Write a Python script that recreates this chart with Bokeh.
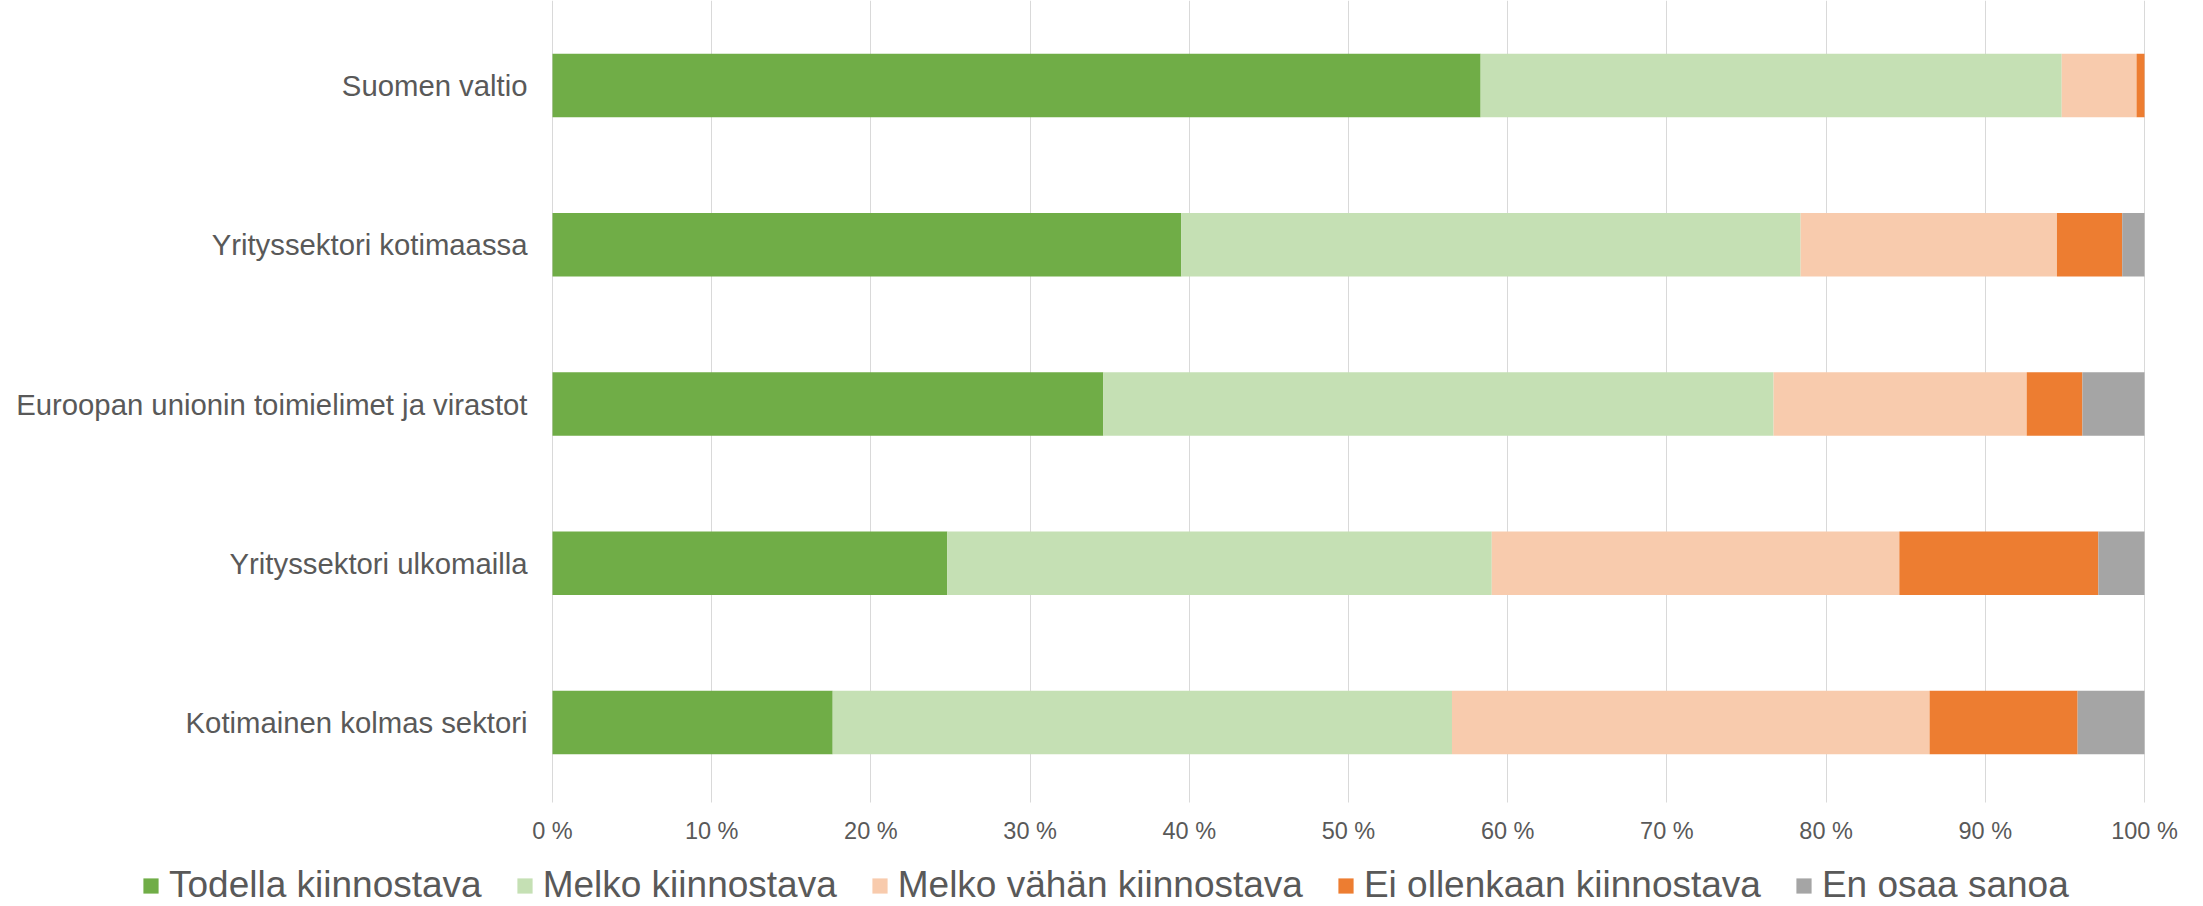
from bokeh.plotting import figure
from bokeh.models import ColumnDataSource, Range1d, FixedTicker, Legend, LegendItem
from bokeh.embed import file_html
from bokeh.resources import INLINE

# ---- data ----
categories = [
    "Suomen valtio",
    "Yrityssektori kotimaassa",
    "Euroopan unionin toimielimet ja virastot",
    "Yrityssektori ulkomailla",
    "Kotimainen kolmas sektori",
]
series_names = [
    "Todella kiinnostava",
    "Melko kiinnostava",
    "Melko vähän kiinnostava",
    "Ei ollenkaan kiinnostava",
    "En osaa sanoa",
]
todella = [58.3, 39.5, 34.6, 24.8, 17.6]
melko = [36.5, 38.9, 42.1, 34.2, 38.9]
melko_vahan = [4.7, 16.1, 15.9, 25.6, 30.0]
ei_ollenkaan = [0.5, 4.1, 3.5, 12.5, 9.3]
en_osaa = [0.0, 1.4, 3.9, 2.9, 4.2]
tick_values = [0, 10, 20, 30, 40, 50, 60, 70, 80, 90, 100]
tick_labels = ["0 %", "10 %", "20 %", "30 %", "40 %", "50 %", "60 %", "70 %", "80 %", "90 %", "100 %"]

colors = ["#70AD47", "#C5E0B4", "#F8CBAD", "#ED7D31", "#A5A5A5"]
keys = ["s0", "s1", "s2", "s3", "s4"]

n = len(categories)
ypos = [n - 1 - i for i in range(n)]  # first category on top

source = ColumnDataSource(dict(
    ypos=ypos,
    s0=todella, s1=melko, s2=melko_vahan, s3=ei_ollenkaan, s4=en_osaa,
))

FONT = "Liberation Sans"
TXT = "#595959"

# ---- layout (pixels of the 2203 x 906 canvas) ----
W, H = 2203, 906
PX0, PX100 = 552, 2144          # 0 % and 100 %
PY_TOP, PY_BOT = 5.4, 801.6     # top and bottom of the category bands
ppu_x = (PX100 - PX0) / 100.0
ppu_y = (PY_BOT - PY_TOP) / n
x_start = -PX0 / ppu_x
x_end = 100 + (W - PX100) / ppu_x
y_top = (n - 0.5) + PY_TOP / ppu_y
y_bot = -0.5 - (H - PY_BOT) / ppu_y

p = figure(
    width=W, height=H,
    x_range=Range1d(x_start, x_end),
    y_range=Range1d(y_bot, y_top),
    output_backend="svg", toolbar_location=None,
    min_border_left=0, min_border_right=0,
    min_border_top=0, min_border_bottom=0,
)
p.outline_line_color = None
p.background_fill_color = "white"
p.border_fill_color = "white"

renderers = p.hbar_stack(keys, y="ypos", height=0.4, color=colors, line_color=None, source=source)

# x axis pinned to the bottom of the category area
p.xaxis.fixed_location = -0.5
p.xaxis.ticker = FixedTicker(ticks=tick_values)
p.xaxis.major_label_overrides = {v: l for v, l in zip(tick_values, tick_labels)}
p.xaxis.axis_line_color = None
p.xaxis.major_tick_line_color = None
p.xaxis.minor_tick_line_color = None
p.xaxis.major_tick_out = 0
p.xaxis.major_tick_in = 0
p.xaxis.major_label_standoff = 16
p.xaxis.major_label_text_font = FONT
p.xaxis.major_label_text_font_size = "23.5px"
p.xaxis.major_label_text_color = TXT

# y axis (category names) pinned at 0 %
p.yaxis.fixed_location = 0
p.yaxis.ticker = FixedTicker(ticks=ypos)
p.yaxis.major_label_overrides = {y: c for y, c in zip(ypos, categories)}
p.yaxis.axis_line_color = None
p.yaxis.major_tick_line_color = None
p.yaxis.minor_tick_line_color = None
p.yaxis.major_tick_out = 0
p.yaxis.major_tick_in = 0
p.yaxis.major_label_standoff = 25
p.yaxis.major_label_text_font = FONT
p.yaxis.major_label_text_font_size = "29.3px"
p.yaxis.major_label_text_color = TXT

p.xgrid.grid_line_color = "#D9D9D9"
p.xgrid.grid_line_width = 1
grid = p.xgrid[0]
if "cross_bounds" in grid.properties():
    grid.cross_bounds = (-0.5, y_top)
p.ygrid.grid_line_color = None

legend = Legend(
    items=[LegendItem(label=s, renderers=[r]) for s, r in zip(series_names, renderers)],
    orientation="horizontal",
    location=(141, 0),
    glyph_width=19, glyph_height=19,
    label_standoff=9, spacing=33,
    padding=0, margin=0,
    border_line_color=None,
    background_fill_alpha=0,
    label_text_font=FONT,
    label_text_font_size="37px",
    label_text_color=TXT,
)
p.add_layout(legend)

open("out.html", "w").write(file_html(p, INLINE))
